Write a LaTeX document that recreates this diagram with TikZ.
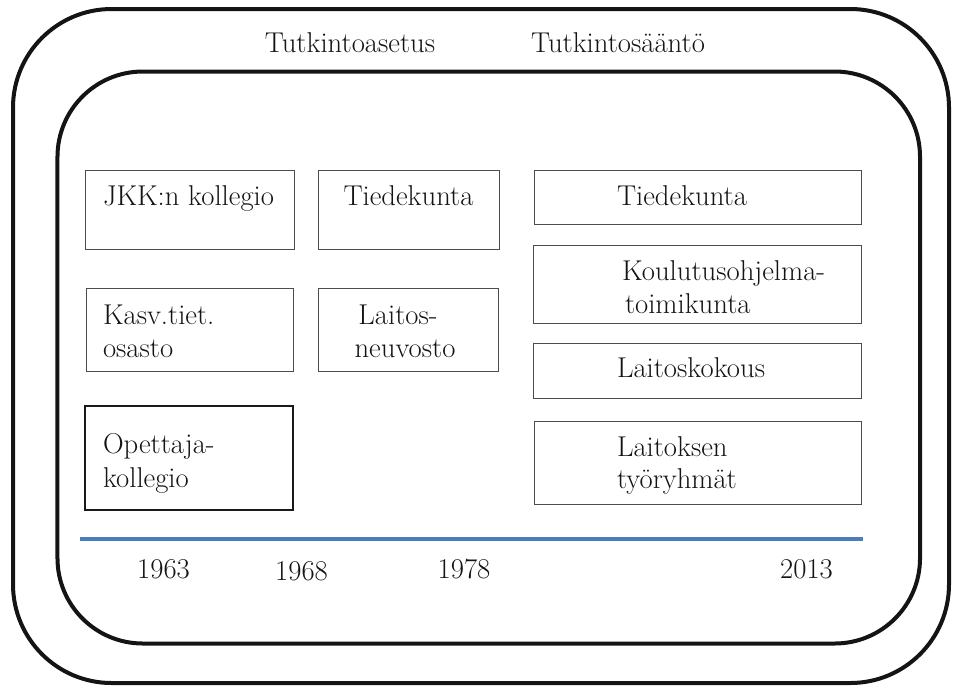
\documentclass[tikz,border=0pt]{standalone}
\usepackage{fontspec}
\begin{document}
\begin{tikzpicture}[x=0.75pt,y=-0.75pt,
  frame/.style={draw=black!92, line width=3pt, rounded corners=74pt, inner sep=0pt, outer sep=0pt},
  innerframe/.style={draw=black!92, line width=3pt, rounded corners=64pt, inner sep=0pt, outer sep=0pt},
  orgbox/.style={draw=black!70, line width=0.75pt, inner sep=0pt, outer sep=0pt},
  txt/.style={font=\fontsize{21.5}{24}\selectfont, text=black!92, inner sep=0pt, outer sep=0pt},
  timeline/.style={draw={rgb,255:red,74;green,126;blue,187}, line width=2.4pt}]
\useasboundingbox (0,0) rectangle (955,687);
% frames
\node[frame, minimum width=702pt, minimum height=505.5pt] (outer) at (481,346) {};
\node[innerframe, minimum width=646.9pt, minimum height=429pt] (inner) at (488.75,357.5) {};
% titles
\node[txt, anchor=base] (asetus) at (350,52) {Tutkintoasetus};
\node[txt, anchor=base] (saanto) at (618,52) {Tutkintosääntö};
% boxes
\node[orgbox, minimum width=156.75pt, minimum height=59.25pt] (b1) at (189.5,209.5) {};
\node[orgbox, minimum width=135.75pt, minimum height=59.25pt] (b2) at (408.5,209.5) {};
\node[orgbox, minimum width=155.25pt, minimum height=62.25pt] (b3) at (189.5,329.5) {};
\node[orgbox, minimum width=135pt, minimum height=62.25pt] (b4) at (408,329.5) {};
\node[orgbox, draw=black!90, line width=1.1pt, minimum width=156pt, minimum height=78pt] (b5) at (189,458) {};
\node[orgbox, minimum width=245.25pt, minimum height=40.5pt] (b6) at (697.5,197) {};
\node[orgbox, minimum width=246pt, minimum height=58.5pt] (b7) at (697,284) {};
\node[orgbox, minimum width=246pt, minimum height=41.25pt] (b8) at (697,370.5) {};
\node[orgbox, minimum width=245.25pt, minimum height=62.25pt] (b9) at (697.5,462.5) {};
% box texts
\node[txt, anchor=base west] (t1) at (103,205) {JKK:n kollegio};
\node[txt, anchor=base] (t2) at (408.5,205) {Tiedekunta};
\node[txt, anchor=base west] (t3a) at (103,324) {Kasv.tiet.};
\node[txt, anchor=base west] (t3b) at (103,357) {osasto};
\node[txt, anchor=base] (t4a) at (398,324) {Laitos-};
\node[txt, anchor=base] (t4b) at (405,357) {neuvosto};
\node[txt, anchor=base west] (t5a) at (103,453) {Opettaja-};
\node[txt, anchor=base west] (t5b) at (103,487) {kollegio};
\node[txt, anchor=base west] (t6) at (617,205) {Tiedekunta};
\node[txt, anchor=base west] (t7a) at (622,280) {Koulutusohjelma-};
\node[txt, anchor=base west] (t7b) at (625,313) {toimikunta};
\node[txt, anchor=base west] (t8) at (617,377) {Laitoskokous};
\node[txt, anchor=base west] (t9a) at (617,456) {Laitoksen};
\node[txt, anchor=base west] (t9b) at (617,488) {työryhmät};
% timeline
\coordinate (tl0) at (80,539);
\coordinate (tl1) at (863,539);
\draw[timeline] (tl0) -- (tl1);
\node[txt, anchor=base] (y1) at (163.5,578) {1963};
\node[txt, anchor=base] (y2) at (301.5,580) {1968};
\node[txt, anchor=base] (y3) at (464,578) {1978};
\node[txt, anchor=base] (y4) at (806.5,578) {2013};
\end{tikzpicture}
\end{document}
